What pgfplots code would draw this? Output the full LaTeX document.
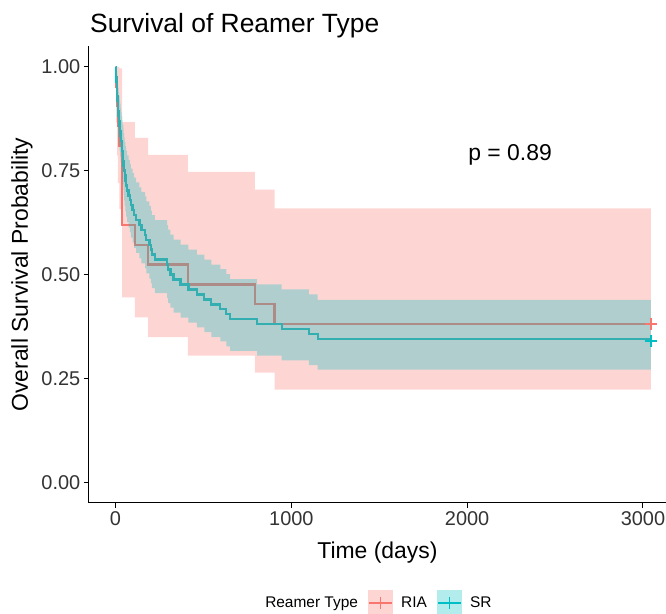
\documentclass[border=0pt]{standalone}
\usepackage{fontspec}
\setmainfont{Liberation Sans}
\usepackage{pgfplots}
\usepackage{pgfplotstable}
\pgfplotsset{compat=1.18}
\usepgfplotslibrary{fillbetween}
\definecolor{riacol}{HTML}{F8766D}
\definecolor{srcol}{HTML}{00BFC4}

% Kaplan-Meier estimates: time, survival, upper, lower
\pgfplotstableread{
t s up lo
0 1 1 1
4 0.952 1 0.866
9 0.905 1 0.787
14 0.857 1 0.720
22 0.810 0.996 0.658
37 0.619 0.867 0.445
110 0.571 0.829 0.397
185 0.524 0.788 0.349
412 0.476 0.747 0.305
793 0.429 0.704 0.264
905 0.381 0.659 0.223
3045 0.381 0.659 0.223
}\ria

\pgfplotstableread{
t s up lo
0 1 1 1
1 0.988 1 0.969
3 0.976 1 0.950
5 0.964 0.997 0.932
7 0.952 0.990 0.915
9 0.940 0.983 0.899
10 0.929 0.975 0.885
12 0.917 0.967 0.870
13 0.905 0.958 0.855
15 0.893 0.949 0.840
17 0.881 0.940 0.826
21 0.869 0.930 0.812
23 0.857 0.921 0.798
26 0.845 0.911 0.784
29 0.833 0.901 0.770
32 0.821 0.891 0.756
35 0.810 0.882 0.744
38 0.798 0.872 0.731
41 0.786 0.861 0.717
44 0.774 0.851 0.704
46 0.762 0.840 0.691
49 0.750 0.830 0.678
52 0.738 0.819 0.665
56 0.726 0.809 0.652
60 0.714 0.798 0.639
66 0.702 0.787 0.626
74 0.690 0.776 0.613
82 0.679 0.766 0.602
88 0.667 0.755 0.589
97 0.655 0.744 0.577
106 0.643 0.733 0.564
117 0.631 0.722 0.552
136 0.619 0.710 0.539
147 0.607 0.699 0.527
168 0.595 0.688 0.515
175 0.583 0.676 0.503
193 0.571 0.665 0.490
201 0.560 0.654 0.479
207 0.548 0.643 0.467
224 0.536 0.631 0.455
293 0.524 0.619 0.443
299 0.512 0.608 0.431
312 0.500 0.596 0.420
330 0.488 0.584 0.408
370 0.476 0.572 0.396
415 0.464 0.560 0.384
462 0.452 0.548 0.373
505 0.440 0.536 0.361
545 0.428 0.524 0.349
596 0.417 0.513 0.339
630 0.405 0.501 0.327
652 0.393 0.489 0.316
805 0.381 0.476 0.305
945 0.369 0.464 0.293
1100 0.357 0.452 0.282
1150 0.345 0.439 0.271
3045 0.345 0.439 0.271
}\sr

\pgfplotsset{
  kmkey/.style={legend image code/.code={
    \path[fill=#1, fill opacity=0.3, draw=none] (0bp,-13bp) rectangle (25bp,13bp);
    \draw[draw=#1, line width=2.2bp] (1bp,0bp) -- (24bp,0bp);
    \draw[draw=#1, line width=1.6bp] (12.5bp,-6bp) -- (12.5bp,6bp);
  }},
}

\begin{document}
\begin{tikzpicture}
\begin{axis}[
  set layers, fill between/on layer=main,
  scale only axis, width=577.2bp, height=457bp,
  xmin=-152, xmax=3131, ymin=-0.05, ymax=1.05,
  axis lines*=left, axis line style={-, line width=1bp, black},
  xtick={0,1000,2000,3000}, ytick={0,0.25,0.5,0.75,1},
  tick align=outside, major tick length=5bp, tick style={line width=1bp, black},
  /pgf/number format/assume math mode=true,
  xticklabel style={/pgf/number format/1000 sep={}},
  yticklabel style={/pgf/number format/.cd, fixed, fixed zerofill, precision=2},
  tick label style={font=\fontsize{20}{24}\selectfont, text=black!80},
  title={Survival of Reamer Type},
  title style={at={(axis description cs:0.002,1.016)}, anchor=base west, font=\fontsize{26.5}{31}\selectfont, inner sep=0pt},
  xlabel={Time (days)},
  xlabel style={at={(axis description cs:0.5,-0.1214)}, anchor=base, font=\fontsize{23}{27}\selectfont, inner sep=0pt},
  ylabel={Overall Survival Probability},
  ylabel style={at={(axis description cs:-0.1157,0.5)}, anchor=center, font=\fontsize{23}{27}\selectfont, inner sep=0pt},
  legend style={at={(axis description cs:0.4965,-0.2188)}, anchor=center, draw=none, fill=none,
    legend columns=-1, font=\fontsize{15.5}{18}\selectfont,
    /tikz/every odd column/.append style={column sep=6bp},
    /tikz/every even column/.append style={column sep=8bp}},
]
% survival curves (drawn under the ribbons, as in ggsurvplot)
\addplot[const plot, riacol, line width=2.3bp, forget plot] table[x=t, y=s] {\ria};
\addplot[const plot, srcol, line width=2.3bp, forget plot] table[x=t, y=s] {\sr};
% confidence ribbons
\addplot[name path=ru, const plot, draw=none, forget plot] table[x=t, y=up] {\ria};
\addplot[name path=rl, const plot, draw=none, forget plot] table[x=t, y=lo] {\ria};
\addplot[riacol, fill opacity=0.3, draw=none, forget plot] fill between[of=ru and rl];
\addplot[name path=su, const plot, draw=none, forget plot] table[x=t, y=up] {\sr};
\addplot[name path=sl, const plot, draw=none, forget plot] table[x=t, y=lo] {\sr};
\addplot[srcol, fill opacity=0.3, draw=none, forget plot] fill between[of=su and sl];
% censoring marks
\addplot[only marks, mark=+, mark size=6bp, riacol, line width=1.8bp, forget plot] coordinates {(3045,0.381)};
\addplot[only marks, mark=+, mark size=6bp, srcol, line width=1.8bp, forget plot] coordinates {(3045,0.340)};
\node[font=\fontsize{23}{27}\selectfont] at (axis cs:2244,0.788) {p = 0.89};
\addlegendimage{empty legend}\addlegendentry{Reamer Type}
\addlegendimage{kmkey=riacol}\addlegendentry{RIA}
\addlegendimage{kmkey=srcol}\addlegendentry{SR}
\end{axis}
\pgfresetboundingbox
\path[use as bounding box] ([xshift=-88.8bp,yshift=-111bp]current axis.south west) rectangle ([yshift=46bp]current axis.north east);
\end{tikzpicture}
\end{document}
